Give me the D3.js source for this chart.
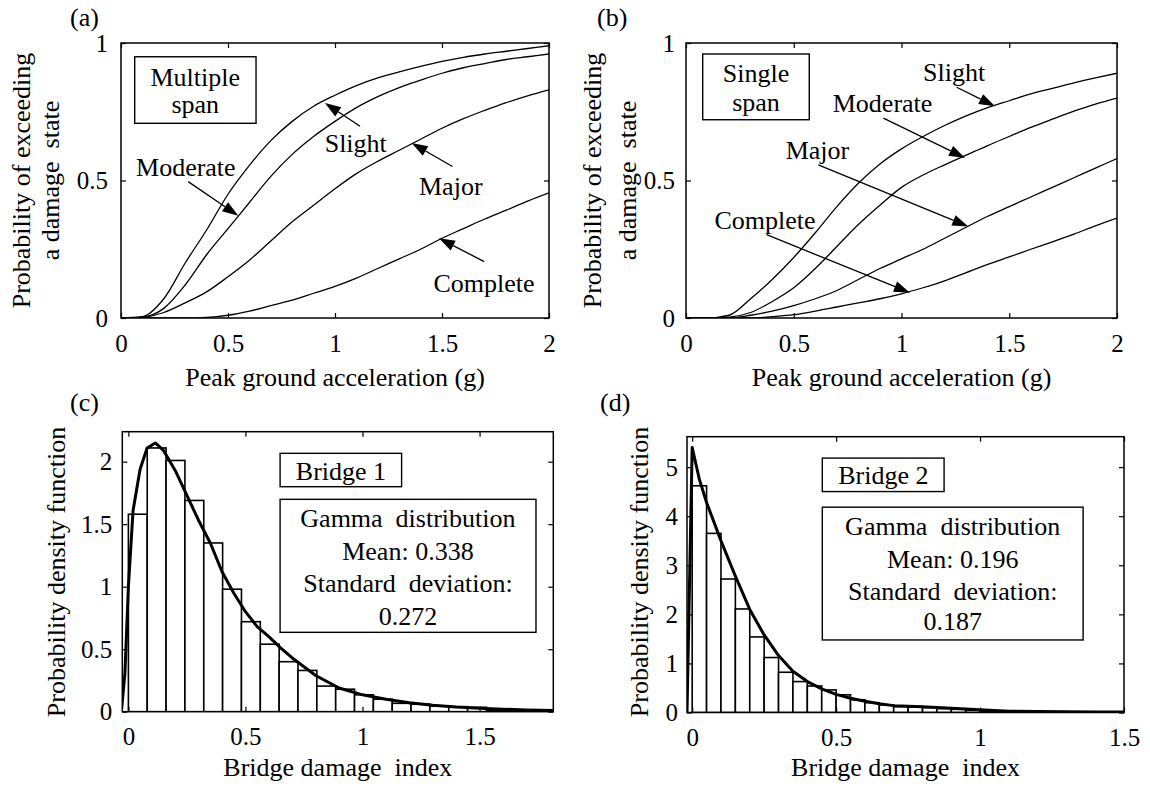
<!DOCTYPE html>
<html><head><meta charset="utf-8">
<script src="https://cdn.jsdelivr.net/npm/d3@7/dist/d3.min.js"></script>
<style>
body{margin:0;background:#fff;}
</style></head><body>
<svg id="fig" width="1150" height="786" xmlns="http://www.w3.org/2000/svg"></svg>
<script>
// ---------------- DATA ----------------
const pga = [0,0.1,0.2,0.3,0.4,0.5,0.6,0.7,0.8,0.9,1.0,1.1,1.2,1.3,1.4,1.5,1.6,1.7,1.8,1.9,2.0];
// (a) multiple span fragility curves
const multiSlight   = [0,0.005,0.07,0.20,0.32,0.45,0.555,0.645,0.715,0.77,0.81,0.845,0.873,0.895,0.915,0.933,0.948,0.96,0.97,0.98,0.99];
const multiModerate = [0,0.003,0.035,0.12,0.23,0.325,0.42,0.515,0.595,0.66,0.715,0.765,0.805,0.838,0.865,0.89,0.91,0.925,0.94,0.95,0.96];
const multiMajor    = [0,0.002,0.02,0.055,0.095,0.15,0.21,0.28,0.35,0.41,0.47,0.525,0.57,0.61,0.65,0.69,0.725,0.755,0.783,0.808,0.83];
const multiComplete = [0,0,0,0,0.002,0.01,0.025,0.045,0.065,0.09,0.115,0.145,0.18,0.215,0.25,0.29,0.325,0.36,0.392,0.425,0.455];
// (b) single span fragility curves
const singleSlight   = [0,0,0.01,0.07,0.14,0.22,0.31,0.405,0.49,0.56,0.615,0.66,0.70,0.735,0.765,0.79,0.815,0.835,0.855,0.873,0.89];
const singleModerate = [0,0,0.003,0.02,0.06,0.11,0.18,0.26,0.34,0.41,0.475,0.52,0.557,0.592,0.627,0.66,0.693,0.723,0.752,0.778,0.80];
const singleMajor    = [0,0,0,0.01,0.025,0.045,0.07,0.10,0.14,0.18,0.215,0.25,0.29,0.33,0.37,0.405,0.44,0.475,0.51,0.545,0.58];
const singleComplete = [0,0,0,0,0.005,0.012,0.025,0.04,0.055,0.07,0.088,0.11,0.135,0.165,0.195,0.222,0.25,0.277,0.305,0.335,0.363];
const damageStates = ["Slight","Moderate","Major","Complete"];

// (c) Bridge 1 histogram (bin width 0.0805 starting at 0) and fitted gamma pdf
const bridge1BinWidth = 0.0805;
const bridge1Bins = [1.58,2.11,2.01,1.69,1.35,0.98,0.72,0.54,0.40,0.33,0.205,0.18,0.135,0.10,0.067,0.06,0.045,0.04,0.035,0.012,0.008,0.005,0.004,0.003];
const bridge1X = [-0.03,-0.015,0,0.02,0.05,0.08,0.115,0.15,0.2,0.25,0.3,0.35,0.4,0.45,0.5,0.55,0.6,0.65,0.7,0.8,0.9,1.0,1.1,1.2,1.3,1.4,1.5,1.6,1.7,1.82];
const bridge1Y = [0,0.3,1.0,1.61,1.94,2.11,2.15,2.09,1.93,1.73,1.53,1.35,1.12,0.95,0.8,0.68,0.6,0.51,0.43,0.29,0.19,0.135,0.1,0.072,0.052,0.037,0.027,0.02,0.014,0.01];
// (d) Bridge 2 histogram (bin width 0.05) and fitted gamma pdf
const bridge2BinWidth = 0.05;
const bridge2Bins = [4.62,3.65,2.72,2.11,1.54,1.12,0.82,0.63,0.54,0.46,0.36,0.26,0.20,0.155,0.12,0.11,0.10,0.08,0.065,0.045,0.03,0.02,0.012,0.01,0.008,0.006,0.005,0.004,0.003,0.002];
const bridge2X = [-0.018,0,0.025,0.05,0.1,0.15,0.2,0.25,0.3,0.35,0.4,0.45,0.5,0.55,0.6,0.65,0.7,0.8,0.9,1.0,1.1,1.2,1.3,1.4,1.5];
const bridge2Y = [0,5.4,4.75,4.28,3.5,2.78,2.1,1.58,1.16,0.84,0.63,0.48,0.37,0.29,0.23,0.18,0.14,0.115,0.085,0.055,0.025,0.02,0.015,0.01,0.01];

// tick values
const pgaTicks = [0,0.5,1,1.5,2];
const probTicks = [0,0.5,1];
const bdiTicksC = [0,0.5,1,1.5];
const pdfTicksC = [0,0.5,1,1.5,2];
const bdiTicksD = [0,0.5,1,1.5];
const pdfTicksD = [0,1,2,3,4,5];

// ---------------- DRAWING ----------------
const svg = d3.select("#fig");
const FONT = "Liberation Serif";
const FS = 26;
let clipId = 0;

function styleText(sel, size) {
  return sel.attr("font-family", FONT).attr("font-size", size || FS).attr("fill", "#000")
    .attr("xml:space", "preserve").style("white-space", "pre");
}

function frame(g, x, y, xt, yt, padX, padY) {
  const [yb, yt0] = y.range();
  const [xl, xr] = x.range();
  const fmt = d => String(d);
  const ax = [
    g.append("g").attr("transform", `translate(0,${yb})`).call(d3.axisBottom(x).tickValues(xt).tickSize(-5).tickPadding(padX).tickFormat(fmt)),
    g.append("g").attr("transform", `translate(0,${yt0})`).call(d3.axisTop(x).tickValues(xt).tickSize(-5).tickFormat("")),
    g.append("g").attr("transform", `translate(${xl},0)`).call(d3.axisLeft(y).tickValues(yt).tickSize(-5).tickPadding(padY).tickFormat(fmt)),
    g.append("g").attr("transform", `translate(${xr},0)`).call(d3.axisRight(y).tickValues(yt).tickSize(-5).tickFormat(""))
  ];
  ax.forEach(a => {
    a.attr("font-size", FS - 1).attr("font-family", FONT);
    a.select(".domain").remove();
    a.selectAll("line").attr("stroke", "#000").attr("stroke-width", 1.2);
    styleText(a.selectAll("text"), FS - 1);
  });
  g.append("rect").attr("x", xl).attr("y", yt0).attr("width", xr - xl).attr("height", yb - yt0)
    .attr("fill", "none").attr("stroke", "#000").attr("stroke-width", 1.5);
}

function clip(g, x, y) {
  const id = "clip" + (clipId++);
  g.append("clipPath").attr("id", id).append("rect")
    .attr("x", x.range()[0]).attr("y", y.range()[1])
    .attr("width", x.range()[1] - x.range()[0]).attr("height", y.range()[0] - y.range()[1]);
  return "url(#" + id + ")";
}

function arrow(g, x1, y1, x2, y2) {
  const dx = x2 - x1, dy = y2 - y1, L = Math.hypot(dx, dy);
  const ux = dx / L, uy = dy / L, hl = 16, hw = 5.5;
  const bx = x2 - ux * hl, by = y2 - uy * hl;
  g.append("line").attr("x1", x1).attr("y1", y1).attr("x2", bx).attr("y2", by)
    .attr("stroke", "#000").attr("stroke-width", 1.3);
  g.append("path").attr("d", `M${x2},${y2}L${bx - uy * hw},${by + ux * hw}L${bx + uy * hw},${by - ux * hw}Z`).attr("fill", "#000");
}

function label(g, txt, x, y, anchor) {
  return styleText(g.append("text"), FS).attr("x", x).attr("y", y)
    .attr("text-anchor", anchor || "middle").text(txt);
}

function boxText(g, x, y, box, lines) {
  g.append("rect").attr("x", x(box[0])).attr("y", y(box[1]))
    .attr("width", x(box[2]) - x(box[0])).attr("height", y(box[3]) - y(box[1]))
    .attr("fill", "#fff").attr("stroke", "#000").attr("stroke-width", 1.4);
  lines.forEach(l => label(g, l[0], x(l[1]), y(l[2])));
}

function yTitle(g, lines) {
  lines.forEach(l => styleText(g.append("text"), FS).attr("text-anchor", "middle")
    .attr("transform", `translate(${l[1]},${l[2]}) rotate(-90)`).text(l[0]));
}

// ----- fragility panels -----
function fragPanel(opts) {
  const g = svg.append("g");
  const x = d3.scaleLinear().domain([0, 2]).range(opts.xr);
  const y = d3.scaleLinear().domain([0, 1]).range(opts.yr);
  const cp = clip(g, x, y);
  const line = d3.line().x((d, i) => x(pga[i])).y(d => y(d)).curve(d3.curveMonotoneX);
  opts.series.forEach(s => g.append("path").attr("d", line(s)).attr("fill", "none")
    .attr("stroke", "#000").attr("stroke-width", 1.3).attr("clip-path", cp));
  boxText(g, x, y, opts.box, opts.boxLines);
  opts.notes.forEach(n => {
    label(g, n.name, x(n.t[0]), y(n.t[1]));
    arrow(g, x(n.a[0]), y(n.a[1]), x(n.a[2]), y(n.a[3]));
  });
  frame(g, x, y, pgaTicks, probTicks, 16, opts.padY);
  label(g, "Peak ground acceleration (g)", (opts.xr[0] + opts.xr[1]) / 2, 385.5);
  yTitle(g, opts.ytitle);
  label(g, opts.tag, opts.tagX, 26, "start");
}

fragPanel({
  xr: [121, 549], yr: [318, 43], padY: 13, tag: "(a)", tagX: 70,
  series: [multiSlight, multiModerate, multiMajor, multiComplete],
  box: [0.064, 0.950, 0.631, 0.708],
  boxLines: [["Multiple", 0.347, 0.845], ["span", 0.347, 0.745]],
  notes: [
    {name: damageStates[0], t: [1.097, 0.604], a: [1.117, 0.697, 0.953, 0.782]},
    {name: damageStates[1], t: [0.303, 0.515], a: [0.314, 0.496, 0.548, 0.372]},
    {name: damageStates[2], t: [1.541, 0.447], a: [1.549, 0.551, 1.358, 0.636]},
    {name: damageStates[3], t: [1.696, 0.095], a: [1.697, 0.205, 1.486, 0.29]}
  ],
  ytitle: [["Probability of exceeding", 30, 180.5], ["a damage  state", 59, 180.5]]
});

fragPanel({
  xr: [686, 1117], yr: [318, 43], padY: 11, tag: "(b)", tagX: 597,
  series: [singleSlight, singleModerate, singleMajor, singleComplete],
  box: [0.0775, 0.96, 0.572, 0.721],
  boxLines: [["Single", 0.325, 0.858], ["span", 0.325, 0.753]],
  notes: [
    {name: damageStates[0], t: [1.244, 0.862], a: [1.256, 0.839, 1.434, 0.77]},
    {name: damageStates[1], t: [0.912, 0.749], a: [0.916, 0.727, 1.295, 0.582]},
    {name: damageStates[2], t: [0.610, 0.58], a: [0.614, 0.557, 1.31, 0.333]},
    {name: damageStates[3], t: [0.367, 0.325], a: [0.374, 0.303, 1.039, 0.092]}
  ],
  ytitle: [["Probability of exceeding", 601, 180.5], ["a damage  state", 636, 180.5]]
});

// ----- histogram panels -----
function histPanel(opts) {
  const g = svg.append("g");
  const x = d3.scaleLinear().domain(opts.xd).range(opts.xr);
  const y = d3.scaleLinear().domain(opts.yd).range(opts.yr);
  const cp = clip(g, x, y);
  const hg = g.append("g").attr("clip-path", cp);
  hg.selectAll("rect").data(opts.bins).join("rect")
    .attr("x", (d, i) => x(i * opts.bw)).attr("width", (d, i) => x((i + 1) * opts.bw) - x(i * opts.bw))
    .attr("y", d => y(d)).attr("height", d => y(0) - y(d))
    .attr("fill", "#fff").attr("stroke", "#000").attr("stroke-width", 1.6);
  const line = d3.line().x((d, i) => x(opts.cx[i])).y(d => y(d));
  hg.append("path").attr("d", line(opts.cy)).attr("fill", "none").attr("stroke", "#000")
    .attr("stroke-width", 3).attr("stroke-linejoin", "round");
  boxText(g, x, y, opts.box1, opts.box1Lines);
  boxText(g, x, y, opts.box2, opts.box2Lines);
  frame(g, x, y, opts.xt, opts.yt, 16, opts.padY);
  label(g, "Bridge damage  index", (opts.xr[0] + opts.xr[1]) / 2, 775.5);
  yTitle(g, [["Probability density function", opts.ytX, 572]]);
  label(g, opts.tag, opts.tagX, 411, "start");
}

histPanel({
  xd: [-0.026, 1.815], xr: [122.3, 553.3], yd: [0, 2.24], yr: [711.7, 431.7],
  bins: bridge1Bins, bw: bridge1BinWidth, cx: bridge1X, cy: bridge1Y,
  xt: bdiTicksC, yt: pdfTicksC, padY: 10, ytX: 64.5, tag: "(c)", tagX: 70,
  box1: [0.648, 2.067, 1.167, 1.8], box1Lines: [["Bridge 1", 0.908, 1.85]],
  box2: [0.648, 1.699, 1.741, 0.635],
  box2Lines: [["Gamma  distribution", 1.194, 1.478], ["Mean: 0.338", 1.194, 1.214],
              ["Standard  deviation:", 1.194, 0.958], ["0.272", 1.194, 0.694]]
});

histPanel({
  xd: [-0.018, 1.5], xr: [687, 1124], yd: [0, 5.62], yr: [712.5, 436.7],
  bins: bridge2Bins, bw: bridge2BinWidth, cx: bridge2X, cy: bridge2Y,
  xt: bdiTicksD, yt: pdfTicksD, padY: 9, ytX: 647.5, tag: "(d)", tagX: 600,
  box1: [0.452, 5.184, 0.875, 4.502], box1Lines: [["Bridge 2", 0.664, 4.66]],
  box2: [0.452, 4.184, 1.358, 1.478],
  box2Lines: [["Gamma  distribution", 0.905, 3.609], ["Mean: 0.196", 0.905, 2.936],
              ["Standard  deviation:", 0.905, 2.284], ["0.187", 0.905, 1.672]]
});
</script>
</body></html>
